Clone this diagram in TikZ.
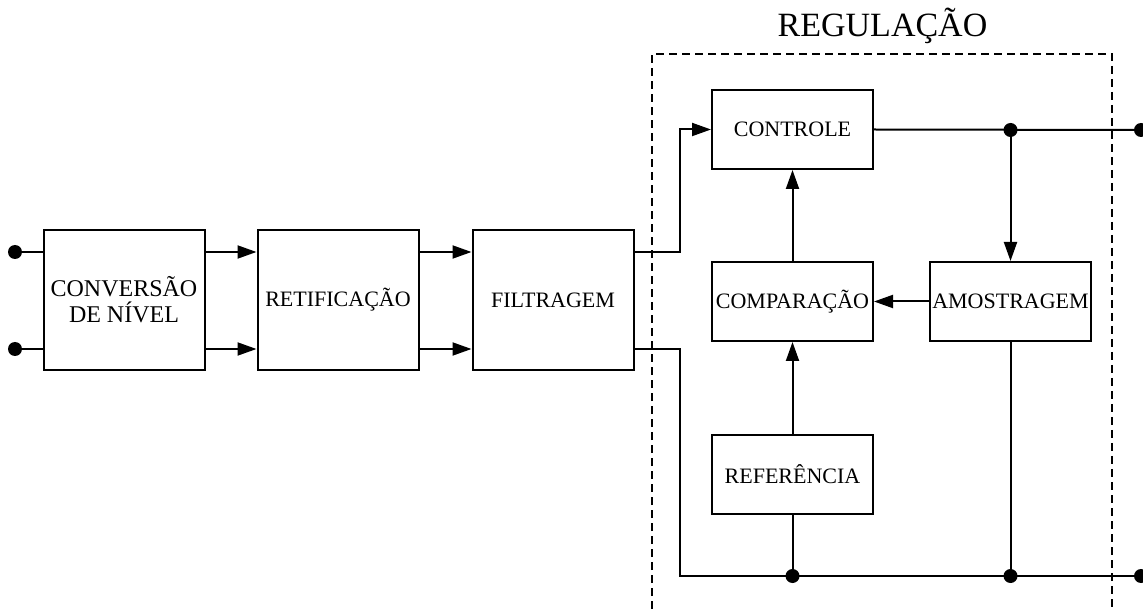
\documentclass[tikz,border=0pt]{standalone}
\usepackage{fontspec}
\setmainfont{Liberation Serif}
\usetikzlibrary{arrows.meta,positioning}
\newcommand{\blockfont}{\fontsize{22}{24}\selectfont}

\begin{document}
\begin{tikzpicture}[
    x=1pt,y=1pt,
    line width=2pt,
    node distance=51pt,
    big/.style={rectangle,draw,line width=2pt,minimum width=161pt,minimum height=140pt,
      inner sep=1pt,align=center,font=\blockfont},
    small/.style={rectangle,draw,line width=2pt,minimum width=161pt,minimum height=79pt,
      inner sep=1pt,align=center,font=\blockfont},
    wire/.style={line width=2pt},
    arrow/.style={-{Triangle[length=19pt,width=13pt]},line width=2pt},
    dot/.style={circle,fill,inner sep=0pt,minimum size=14pt},
    frame/.style={line width=2pt,dash pattern=on 8pt off 5pt}
  ]
    \useasboundingbox (0,0) rectangle (1143,-609);

    % power stage
    \node[big,font=\fontsize{24}{26}\selectfont] (conv) at (124,-300) {CONVERSÃO\\DE NÍVEL};
    \node[big,right=of conv] (retif) {RETIFICAÇÃO};
    \node[big,right=52pt of retif] (filt) {FILTRAGEM};

    % regulation loop
    \node[small] (ctrl) at (792.5,-129.5) {CONTROLE};
    \node[small,below=91pt of ctrl] (comp) {COMPARAÇÃO};
    \node[small,right=55pt of comp] (amos) {AMOSTRAGEM};
    \node[small,below=92pt of comp] (ref) {REFERÊNCIA};

    \draw[frame] (652,-609) -- (652,-54) -- (1112,-54) -- (1112,-609);
    \node[anchor=base,font=\fontsize{34}{36}\selectfont] (title) at (882.5,-37) {REGULAÇÃO};

    \coordinate (in1) at (15,-252);
    \coordinate (in2) at (15,-349);
    \coordinate (rail) at (680,-576);
    \coordinate (outA) at (1141,-130);
    \coordinate (outB) at (1141,-576);
    \coordinate (jA) at (amos.north |- outA);
    \coordinate (jB1) at (ref.south |- rail);
    \coordinate (jB2) at (amos.south |- rail);

    \draw[wire] (in1) -- (in1 -| conv.west);
    \draw[wire] (in2) -- (in2 -| conv.west);
    \draw[arrow] (in1 -| conv.east) -- (in1 -| retif.west);
    \draw[arrow] (in2 -| conv.east) -- (in2 -| retif.west);
    \draw[arrow] (in1 -| retif.east) -- (in1 -| filt.west);
    \draw[arrow] (in2 -| retif.east) -- (in2 -| filt.west);

    \draw[arrow] (in1 -| filt.east) -- (in1 -| rail) |- (ctrl.west);
    \draw[wire] (in2 -| filt.east) -- (in2 -| rail) -- (rail) -- (outB);
    \draw[wire] (ctrl.east) -- (outA);
    \draw[arrow] (jA) -- (amos.north);
    \draw[arrow] (amos.west) -- (comp.east);
    \draw[arrow] (comp.north) -- (ctrl.south);
    \draw[arrow] (ref.north) -- (comp.south);
    \draw[wire] (ref.south) -- (jB1);
    \draw[wire] (amos.south) -- (jB2);

    \foreach \p in {in1,in2,jA,outA,outB,jB1,jB2}
      \node[dot] at (\p) {};
  \end{tikzpicture}
\end{document}
